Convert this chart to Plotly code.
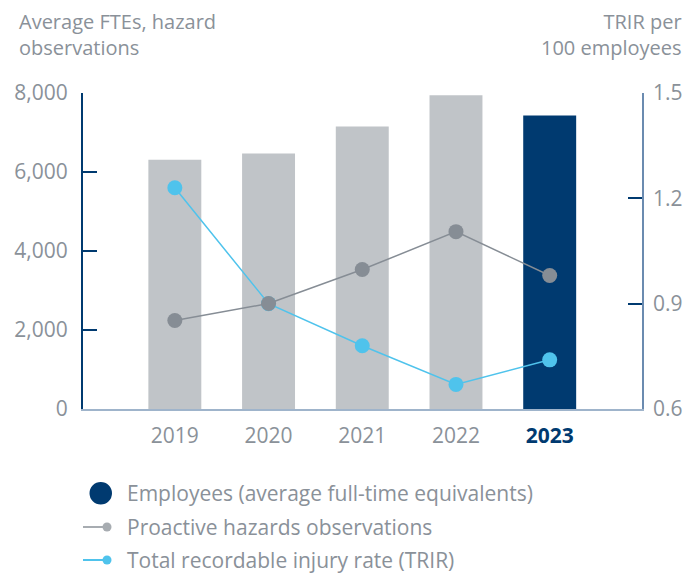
import plotly.graph_objects as go

# Data
years = ["2019", "2020", "2021", "2022", "2023"]
employees_fte = [6310, 6470, 7150, 7940, 7430]
hazard_observations = [2240, 2670, 3530, 4490, 3380]
trir = [1.23, 0.90, 0.78, 0.67, 0.74]

# Styling
NAVY = "#003a70"
BAR_GRAY = "#c0c4c8"
LINE_GRAY = "#868d95"
LEGEND_GRAY = "#a7acb1"
SKY = "#4fc3ec"
TEXT = "#8a9199"
FONT = "Open Sans"

W, H = 690, 573
L, R, T, B = 83, 48, 93, 164
PW, PH = W - L - R, H - T - B


def px(x):
    return (x - L) / PW


def py(y):
    return (H - B - y) / PH


bar_colors = [BAR_GRAY] * (len(years) - 1) + [NAVY]
tick_text = years[:-1] + [f"<span style='color:{NAVY}'><b>{years[-1]}</b></span>"]

fig = go.Figure()

fig.add_trace(go.Bar(
    x=years, y=employees_fte, marker=dict(color=bar_colors, line=dict(width=0)),
    yaxis="y", showlegend=False, hoverinfo="x+y",
))
fig.add_trace(go.Scatter(
    x=years, y=trir, mode="lines+markers", yaxis="y2",
    line=dict(color=SKY, width=1.5), marker=dict(color=SKY, size=15),
    showlegend=False,
))
fig.add_trace(go.Scatter(
    x=years, y=hazard_observations, mode="lines+markers", yaxis="y3",
    line=dict(color=LINE_GRAY, width=1.5), marker=dict(color=LINE_GRAY, size=15),
    showlegend=False,
))

axis_font = dict(family=FONT, size=21, color=TEXT)

fig.update_layout(
    width=W, height=H,
    margin=dict(l=L, r=R, t=T, b=B, pad=0, autoexpand=False),
    paper_bgcolor="white", plot_bgcolor="white",
    font=dict(family=FONT, color=TEXT),
    bargap=0.435,
    showlegend=False,
    xaxis=dict(
        type="category", range=[-0.98, 4.985], automargin=False,
        tickvals=years, ticktext=tick_text, tickfont=axis_font,
        showline=True, linecolor="#9fb4cb", linewidth=1.5,
        ticks="", showgrid=False, zeroline=False, ticklabelstandoff=7,
    ),
    yaxis=dict(
        range=[0, 8000], tickvals=[0, 2000, 4000, 6000, 8000], tickformat=",",
        automargin=False,
        tickfont=axis_font, showline=True, linecolor=NAVY, linewidth=2,
        ticks="inside", ticklen=14, tickcolor=NAVY, tickwidth=1.5,
        showgrid=False, zeroline=False, ticklabelstandoff=9,
    ),
    yaxis2=dict(
        range=[0.6, 1.5], tickvals=[0.6, 0.9, 1.2, 1.5], tickformat=".1f",
        overlaying="y", side="right", anchor="x", automargin=False,
        tickfont=axis_font, showline=True, linecolor="#6b8bb0", linewidth=1.5,
        ticks="inside", ticklen=14, tickcolor=NAVY, tickwidth=1.5,
        showgrid=False, zeroline=False, ticklabelstandoff=5,
    ),
    yaxis3=dict(
        range=[0, 8000], overlaying="y", visible=False, matches="y",
    ),
)

# Axis titles
title_font = dict(family=FONT, size=20, color=TEXT)
fig.add_annotation(
    text="Average FTEs, hazard<br>observations", xref="paper", yref="paper",
    x=px(17), y=py(6), xanchor="left", yanchor="top", align="left",
    showarrow=False, font=title_font,
)
fig.add_annotation(
    text="TRIR per<br>100 employees", xref="paper", yref="paper",
    x=px(684), y=py(6), xanchor="right", yanchor="top", align="right",
    showarrow=False, font=title_font,
)

# Legend
legend_items = [
    ("Employees (average full-time equivalents)", 493, "dot", NAVY),
    ("Proactive hazards observations", 527, "line", LEGEND_GRAY),
    ("Total recordable injury rate (TRIR)", 560, "line", SKY),
]
for label, y, kind, color in legend_items:
    if kind == "dot":
        fig.add_shape(
            type="circle", xref="paper", yref="paper",
            x0=px(89.5), x1=px(112), y0=py(504.5), y1=py(482),
            fillcolor=color, line=dict(width=0),
        )
    else:
        fig.add_shape(
            type="line", xref="paper", yref="paper",
            x0=px(83), x1=px(105), y0=py(y), y1=py(y),
            line=dict(color=color, width=2),
        )
        fig.add_shape(
            type="circle", xref="paper", yref="paper",
            x0=px(102.5), x1=px(111.5), y0=py(y + 4.5), y1=py(y - 4.5),
            fillcolor=color, line=dict(width=0),
        )
    fig.add_annotation(
        text=label, xref="paper", yref="paper", x=px(125), y=py(y),
        xanchor="left", yanchor="middle", showarrow=False,
        font=dict(family=FONT, size=21, color=TEXT),
    )

fig.write_html("out.html")
